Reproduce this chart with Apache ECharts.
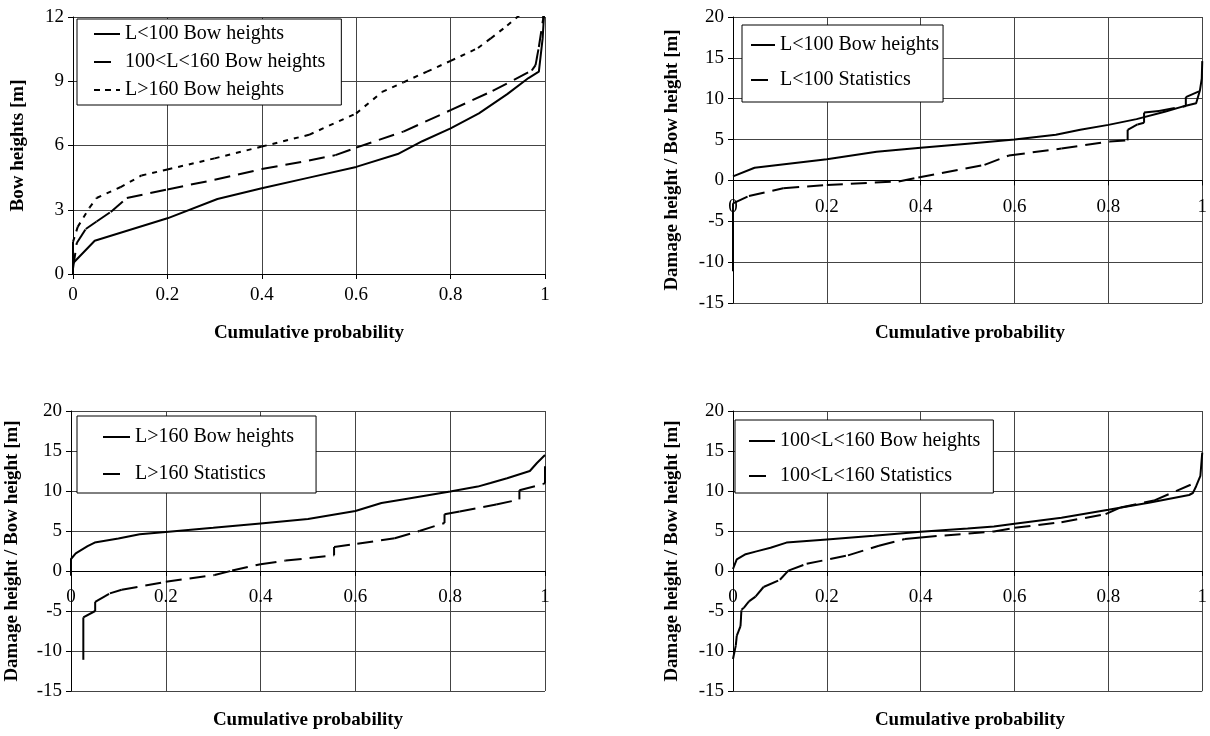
<!DOCTYPE html>
<html>
<head>
<meta charset="utf-8">
<script src="https://cdn.jsdelivr.net/npm/echarts@6/dist/echarts.min.js"></script>
<style>
  html, body { margin: 0; background: #fff; }
  #chart { width: 1210px; height: 736px; }
</style>
</head>
<body>
<div id="chart"></div>
<script>
// [cumulative probability, height m]
const bowL100 = [[0, 0.5], [0.046, 1.55], [0.2, 2.6], [0.306, 3.5], [0.4, 4.0], [0.5, 4.5], [0.6, 5.0], [0.688, 5.6], [0.74, 6.2], [0.8, 6.8], [0.86, 7.5], [0.92, 8.4], [0.965, 9.15], [0.987, 9.45], [0.995, 11.0], [0.999, 12.5], [1, 14.6]]
const statL100 = [[0, -11.1], [0, -2.8], [0.034, -1.9], [0.107, -0.95], [0.2, -0.55], [0.353, -0.12], [0.395, 0.35], [0.536, 1.9], [0.588, 3.05], [0.7, 3.9], [0.802, 4.75], [0.841, 4.9], [0.841, 6.2], [0.862, 6.85], [0.876, 7.05], [0.876, 8.3], [0.908, 8.5], [0.965, 9.1], [0.965, 10.2], [0.993, 10.9]]

const bowL160 = [[0, -0.6], [0, 1.5], [0.01, 2.2], [0.035, 3.1], [0.05, 3.55], [0.1, 4.05], [0.145, 4.6], [0.2, 4.88], [0.3, 5.4], [0.4, 5.95], [0.5, 6.5], [0.6, 7.5], [0.655, 8.5], [0.7, 8.95], [0.75, 9.45], [0.8, 9.95], [0.858, 10.55], [0.885, 11.0], [0.92, 11.6], [0.968, 12.5], [0.983, 13.5], [1, 14.5]]
const statL160 = [[0.026, -11.1], [0.026, -5.8], [0.051, -5.0], [0.051, -3.85], [0.082, -2.8], [0.107, -2.35], [0.2, -1.35], [0.303, -0.5], [0.34, 0.05], [0.4, 0.85], [0.453, 1.3], [0.555, 1.95], [0.555, 3.0], [0.604, 3.4], [0.683, 4.1], [0.735, 5.0], [0.788, 6.0], [0.788, 7.1], [0.82, 7.45], [0.897, 8.3], [0.946, 8.95], [0.946, 10.1], [0.996, 10.85], [1, 11.0], [1, 13.1]]

const bowL100160 = [[0, 0.25], [0.008, 1.45], [0.027, 2.1], [0.05, 2.45], [0.08, 2.9], [0.114, 3.55], [0.2, 3.95], [0.3, 4.4], [0.4, 4.9], [0.5, 5.3], [0.556, 5.55], [0.6, 5.9], [0.7, 6.65], [0.8, 7.65], [0.889, 8.55], [0.972, 9.5], [0.98, 9.75], [0.987, 10.6], [0.996, 11.9], [1, 14.8]]
const statL100160 = [[0, -11.0], [0.006, -9.3], [0.008, -8.1], [0.016, -6.9], [0.018, -4.85], [0.023, -4.6], [0.034, -3.8], [0.048, -3.2], [0.065, -2.0], [0.1, -1.1], [0.118, 0.05], [0.157, 0.9], [0.245, 1.95], [0.311, 3.15], [0.366, 4.0], [0.4, 4.2], [0.556, 4.95], [0.6, 5.4], [0.7, 6.1], [0.794, 7.1], [0.826, 7.95], [0.897, 8.8], [0.984, 11.0]]

const xTitle = 'Cumulative probability'
const yTitleTop = 'Bow heights [m]'
const yTitle = 'Damage height / Bow height [m]'

const font = 'Liberation Serif'
const LONG_DASH = [16, 8]
const DOT = [5, 6]
const LEGEND_DASH = [17, 30]
const LEGEND_DOT = [6, 5]

// labels of the lower three panels sit just under the zero line, not at the grid bottom
function xAxisFor(gi, margin) {
  return {
    type: 'value', gridIndex: gi, min: 0, max: 1, interval: 0.2,
    axisLine: {onZero: true, lineStyle: {color: '#000', width: 1}},
    axisTick: {show: true, length: 5, lineStyle: {color: '#000'}},
    axisLabel: {margin: margin, color: '#000', fontSize: 19, fontFamily: font},
    splitLine: {show: true, lineStyle: {color: '#444', width: 1}}
  }
}

function yAxisFor(gi, min, max, interval, name, gap) {
  return {
    type: 'value', gridIndex: gi, min: min, max: max, interval: interval,
    name: name, nameLocation: 'middle', nameGap: gap,
    nameTextStyle: {fontWeight: 'bold', fontSize: 19, fontFamily: font, color: '#000'},
    axisLine: {show: true, onZero: false, lineStyle: {color: '#000', width: 1}},
    axisTick: {show: true, length: 5, lineStyle: {color: '#000'}},
    axisLabel: {margin: 9, color: '#000', fontSize: 19, fontFamily: font},
    splitLine: {show: true, lineStyle: {color: '#444', width: 1}}
  }
}

function line(name, gi, data, type) {
  return {
    name: name, type: 'line', xAxisIndex: gi, yAxisIndex: gi, data: data,
    symbol: 'none', animation: false, clip: true,
    lineStyle: {color: '#000', width: 2, type: type || 'solid'}
  }
}

// dashed curves: the pattern starts over on every segment, as in the original;
// the vertical steps come out solid there
function dashed(name, gi, data, type) {
  let out = []
  for (let i = 0; i < data.length - 1; i++) {
    let step = data[i][0] === data[i + 1][0]
    out.push(line(name, gi, [data[i], data[i + 1]], step ? 'solid' : type))
  }
  return out
}

function legendFor(data, left, top, padding, gap, iconW) {
  return {
    data: data, orient: 'vertical', left: left, top: top, padding: padding,
    itemGap: gap, itemWidth: iconW, itemHeight: 14,
    itemStyle: {opacity: 0},
    backgroundColor: '#fff', borderColor: '#000', borderWidth: 1,
    textStyle: {color: '#000', fontSize: 20, fontFamily: font, lineHeight: 20}
  }
}

function caption(x, y) {
  return {
    type: 'text', x: x, y: y,
    style: {text: xTitle, fill: '#000', font: 'bold 19px "' + font + '"', align: 'center', verticalAlign: 'middle'}
  }
}

let chart = echarts.init(document.getElementById('chart'))

chart.setOption({
  backgroundColor: '#fff',
  animation: false,
  grid: [
    {left: 73, top: 17, width: 472, height: 257},
    {left: 733, top: 17, width: 474, height: 286},
    {left: 71, top: 411, width: 474, height: 280},
    {left: 733, top: 411, width: 474, height: 280}
  ],
  xAxis: [xAxisFor(0, 12), xAxisFor(1, 17 - 122.6), xAxisFor(2, 17 - 120), xAxisFor(3, 17 - 120)],
  yAxis: [
    yAxisFor(0, 0, 12, 3, yTitleTop, 45),
    yAxisFor(1, -15, 20, 5, yTitle, 51),
    yAxisFor(2, -15, 20, 5, yTitle, 49),
    yAxisFor(3, -15, 20, 5, yTitle, 51)
  ],
  legend: [
    legendFor(['L<100 Bow heights',
      {name: '100<L<160 Bow heights', lineStyle: {type: LEGEND_DASH}},
      {name: 'L>160 Bow heights', lineStyle: {type: LEGEND_DOT}}], 77, 19, [5, 16, 5, 16], 8, 26),
    legendFor(['L<100 Bow heights', {name: 'L<100 Statistics', lineStyle: {type: LEGEND_DASH}}], 742, 25, [10, 4, 12, 8], 15, 24),
    legendFor([{name: 'L>160 Bow heights', lineStyle: {type: 'solid'}},
      {name: 'L>160 Statistics', lineStyle: {type: LEGEND_DASH}}], 77, 416, [11, 22, 9, 25], 17, 27),
    legendFor([{name: '100<L<160 Bow heights', lineStyle: {type: 'solid'}},
      {name: '100<L<160 Statistics', lineStyle: {type: LEGEND_DASH}}], 735, 420, [11, 13, 7, 13], 15, 26)
  ],
  graphic: [caption(309, 333), caption(970, 333), caption(308, 720), caption(970, 720)],
  series: [
    line('L<100 Bow heights', 0, bowL100),
    ...dashed('100<L<160 Bow heights', 0, bowL100160, LONG_DASH),
    ...dashed('L>160 Bow heights', 0, bowL160, DOT),
    line('L<100 Bow heights', 1, bowL100),
    ...dashed('L<100 Statistics', 1, statL100, LONG_DASH),
    line('L>160 Bow heights', 2, bowL160),
    ...dashed('L>160 Statistics', 2, statL160, LONG_DASH),
    line('100<L<160 Bow heights', 3, bowL100160),
    ...dashed('100<L<160 Statistics', 3, statL100160, LONG_DASH)
  ]
})
</script>
</body>
</html>
